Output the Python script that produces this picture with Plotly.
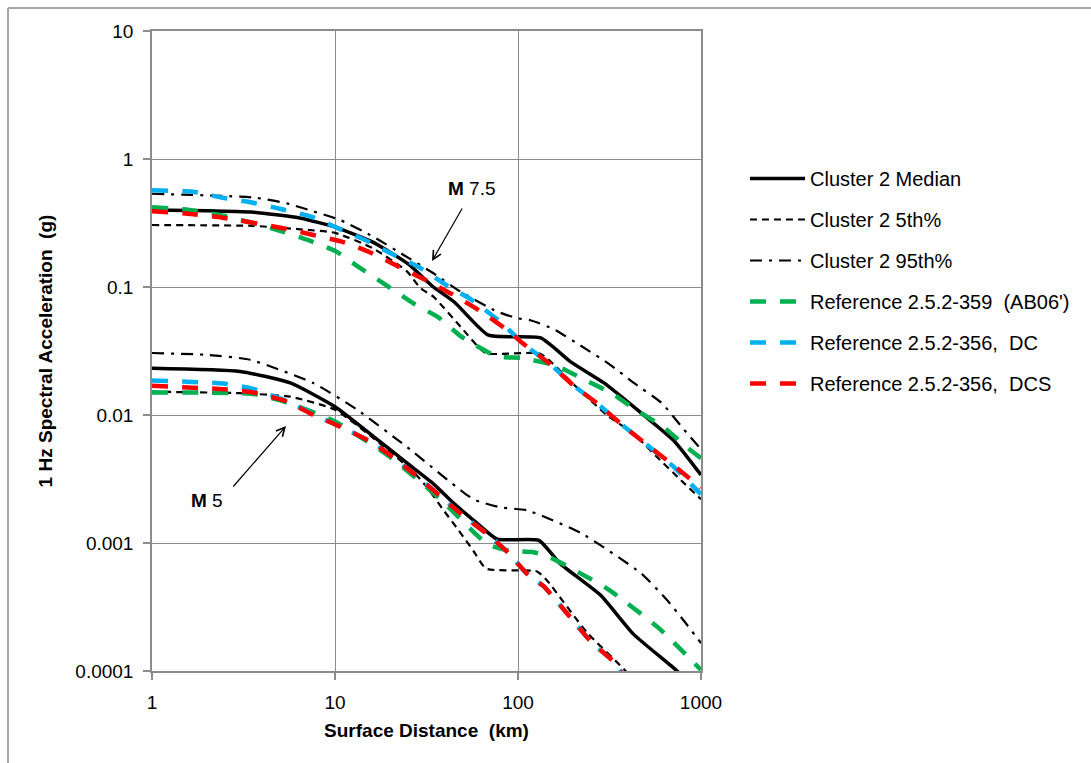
import math
import plotly.graph_objects as go

# ---------------- data ----------------
# M 7.5 curves
med75_x = [1, 2, 3.5, 6.5, 10, 16, 25, 34.5, 45, 69, 133, 194, 295, 448, 711, 1000]
med75_y = [0.40, 0.395, 0.385, 0.345, 0.294, 0.225, 0.152, 0.10, 0.076, 0.042, 0.040, 0.026, 0.0178, 0.011, 0.0063, 0.0034]

p05_75_x = [1, 3.6, 6.5, 10, 16.2, 24.8, 29.3, 34.5, 48.5, 66.5, 133, 200, 305, 425, 575, 776, 1000]
p05_75_y = [0.305, 0.30, 0.282, 0.265, 0.20, 0.132, 0.098, 0.084, 0.049, 0.0305, 0.030, 0.0175, 0.010, 0.0072, 0.0047, 0.0031, 0.0022]

p95_75_x = [1, 3.6, 5.46, 7.6, 10.7, 16.2, 23.7, 34.5, 48.5, 76.5, 99, 117, 156, 226, 315, 430, 610, 800, 1000]
p95_75_y = [0.535, 0.50, 0.45, 0.39, 0.333, 0.247, 0.178, 0.128, 0.092, 0.0645, 0.057, 0.055, 0.047, 0.034, 0.025, 0.0178, 0.0124, 0.0078, 0.0054]

ab06_75_x = [1, 1.6, 2.45, 3.6, 5.0, 7.1, 10.1, 13.7, 19.3, 27, 36.7, 49, 77, 105, 164, 228, 325, 435, 620, 838, 1000]
ab06_75_y = [0.42, 0.40, 0.36, 0.315, 0.275, 0.233, 0.19, 0.141, 0.102, 0.074, 0.058, 0.041, 0.0286, 0.0279, 0.0241, 0.019, 0.0148, 0.0111, 0.0081, 0.0056, 0.0046]

dc_75_x = [1, 1.67, 2.4, 3.51, 5.05, 7.4, 10.5, 14.9, 20.5, 28.7, 40, 56, 82, 107, 150, 200, 273, 373, 510, 700, 1000]
dc_75_y = [0.57, 0.555, 0.50, 0.457, 0.407, 0.355, 0.286, 0.23, 0.181, 0.143, 0.105, 0.079, 0.052, 0.036, 0.025, 0.0171, 0.0122, 0.0083, 0.0058, 0.0040, 0.0024]

dcs_75_x = [1, 1.63, 2.42, 5.2, 7.6, 10.9, 15.6, 21.9, 31, 43.6, 61, 87.5, 107, 150, 200, 273, 373, 510, 700, 1000]
dcs_75_y = [0.39, 0.372, 0.348, 0.288, 0.255, 0.226, 0.186, 0.146, 0.114, 0.088, 0.066, 0.046, 0.036, 0.025, 0.0171, 0.0122, 0.0083, 0.0058, 0.0041, 0.0027]

# M 5 curves
med5_x = [1, 3.03, 5.7, 10, 16.2, 24.8, 34.5, 44.6, 59.7, 77, 130, 170, 283, 426, 740, 1000]
med5_y = [0.0232, 0.0219, 0.0178, 0.0116, 0.0068, 0.0042, 0.0029, 0.00204, 0.00143, 0.00107, 0.00105, 0.00069, 0.00039, 0.000195, 0.0001, 0.000065]

p05_5_x = [1, 3, 5.7, 10, 16.2, 26.8, 32, 39, 47.5, 57, 67, 127, 144, 238, 387, 500]
p05_5_y = [0.0152, 0.0148, 0.0139, 0.011, 0.0066, 0.0036, 0.0027, 0.00182, 0.00125, 0.00087, 0.00063, 0.0006, 0.00051, 0.0002, 0.0001, 0.00006]

p95_5_x = [1, 2, 3.44, 7.6, 13.2, 24.8, 57, 80, 112, 220, 470, 650, 800, 1000]
p95_5_y = [0.0305, 0.0295, 0.027, 0.0178, 0.011, 0.0056, 0.0022, 0.0019, 0.0018, 0.0012, 0.00058, 0.00036, 0.00025, 0.000165]

ab06_5_x = [1, 3.57, 5.5, 10, 20, 37.6, 68, 90, 120, 150, 307, 580, 1000]
ab06_5_y = [0.015, 0.0146, 0.0125, 0.0089, 0.0047, 0.0022, 0.00098, 0.00087, 0.00085, 0.00077, 0.00044, 0.00022, 0.000102]

dc_5_x = [1, 2.45, 3.57, 5.5, 7.3, 10.3, 16.3, 26.8, 48.5, 70.8, 87.5, 114, 138, 186, 250, 336, 400]
dc_5_y = [0.0186, 0.0176, 0.016, 0.0128, 0.0104, 0.0083, 0.006, 0.0035, 0.0017, 0.00112, 0.00085, 0.00056, 0.00046, 0.00028, 0.00017, 0.000117, 0.00008]

dcs_5_x = [1, 2.45, 3.57, 5.5, 7.3, 10.3, 16.3, 26.8, 48.5, 70.8, 87.5, 114, 138, 186, 250, 336, 400]
dcs_5_y = [0.0169, 0.0159, 0.015, 0.0127, 0.0103, 0.0083, 0.006, 0.0035, 0.0017, 0.00112, 0.00085, 0.00056, 0.00046, 0.00028, 0.00017, 0.000117, 0.00008]

series_names = ["Cluster 2 Median", "Cluster 2 5th%", "Cluster 2 95th%",
                "Reference 2.5.2-359  (AB06')", "Reference 2.5.2-356,  DC",
                "Reference 2.5.2-356,  DCS"]

x_ticks = [1, 10, 100, 1000]
x_tick_text = ["1", "10", "100", "1000"]
y_ticks = [10, 1, 0.1, 0.01, 0.001, 0.0001]
y_tick_text = ["10", "1", "0.1", "0.01", "0.001", "0.0001"]

# ---------------- figure ----------------
FONT = "Liberation Sans, Arial, sans-serif"
styles = [
    dict(color="#000000", width=3.5, dash="solid"),
    dict(color="#000000", width=2.2, dash="7px,5px"),
    dict(color="#000000", width=2.2, dash="12px,7px,3px,7px"),
    dict(color="#00B050", width=4.5, dash="16px,14px"),
    dict(color="#00B0F0", width=4.5, dash="16px,14px"),
    dict(color="#FF0000", width=4.5, dash="16px,14px"),
]
pairs = [
    (med75_x, med75_y, med5_x, med5_y),
    (p05_75_x, p05_75_y, p05_5_x, p05_5_y),
    (p95_75_x, p95_75_y, p95_5_x, p95_5_y),
    (ab06_75_x, ab06_75_y, ab06_5_x, ab06_5_y),
    (dc_75_x, dc_75_y, dc_5_x, dc_5_y),
    (dcs_75_x, dcs_75_y, dcs_5_x, dcs_5_y),
]

fig = go.Figure()
for name, st, (ax_, ay_, bx_, by_) in zip(series_names, styles, pairs):
    fig.add_trace(go.Scatter(
        x=ax_ + [None] + bx_, y=ay_ + [None] + by_,
        mode="lines", name=name, legendgroup=name,
        line=dict(**st, shape="spline", smoothing=0.5), connectgaps=False,
        hoverinfo="x+y+name",
    ))

grid = "#8c8c8c"
axis_common = dict(
    type="log", showgrid=True, gridcolor=grid, gridwidth=1,
    showline=True, linecolor=grid, linewidth=1.5, mirror=True,
    ticks="outside", ticklen=7, tickcolor=grid, tickwidth=1.5,
    zeroline=False, tickfont=dict(family=FONT, size=19, color="#000"),
)
fig.update_xaxes(**axis_common, range=[0, 3], tickvals=x_ticks, ticktext=x_tick_text,
                 ticklabelstandoff=6,
                 title=dict(text="<b>Surface Distance  (km)</b>",
                            font=dict(family=FONT, size=19, color="#000"), standoff=12))
fig.update_yaxes(**axis_common, range=[-4, 1], tickvals=y_ticks, ticktext=y_tick_text,
                 ticklabelstandoff=6,
                 title=dict(text="<b>1 Hz Spectral Acceleration  (g)</b>",
                            font=dict(family=FONT, size=19, color="#000"), standoff=18))

L, R, T, B = 152, 390, 31, 92
W, H = 1091, 763
pw, ph = W - L - R, H - T - B


def px_x(p):
    return (p - L) / pw


def px_y(p):
    return (H - B - p) / ph


def lx(px):
    return (px - L) / pw * 3.0


def ly(py):
    return 1 - (py - T) / ph * 5.0


annotations = [
    dict(x=lx(472), y=ly(188), xref="x", yref="y", text="<b>M</b> 7.5", showarrow=False,
         font=dict(family=FONT, size=19, color="#000")),
    dict(x=lx(432), y=ly(261), xref="x", yref="y", text="", showarrow=True,
         ax=31, ay=-54, arrowhead=5, arrowsize=1.4, arrowwidth=1.2, arrowcolor="#000"),
    dict(x=lx(207), y=ly(500), xref="x", yref="y", text="<b>M</b> 5", showarrow=False,
         font=dict(family=FONT, size=19, color="#000")),
    dict(x=lx(286), y=ly(426), xref="x", yref="y", text="", showarrow=True,
         ax=-54, ay=62, arrowhead=5, arrowsize=1.4, arrowwidth=1.2, arrowcolor="#000"),
]

shapes = [
    dict(type="line", xref="paper", yref="paper", x0=px_x(8), x1=px_x(8), y0=px_y(8), y1=px_y(H),
         line=dict(color="#a6a6a6", width=2)),
    dict(type="line", xref="paper", yref="paper", x0=px_x(8), x1=px_x(W), y0=px_y(8), y1=px_y(8),
         line=dict(color="#a6a6a6", width=2)),
]

fig.update_layout(
    width=W, height=H, margin=dict(l=L, r=R, t=T, b=B, pad=0),
    paper_bgcolor="white", plot_bgcolor="white",
    font=dict(family=FONT, size=19, color="#000"),
    showlegend=True,
    legend=dict(x=px_x(745), y=px_y(159), xanchor="left", yanchor="top",
                itemwidth=55, traceorder="grouped", tracegroupgap=12,
                font=dict(family=FONT, size=20, color="#000"),
                bgcolor="rgba(0,0,0,0)", borderwidth=0, itemclick=False),
    annotations=annotations, shapes=shapes,
)

fig.write_html("out.html", config={"displayModeBar": False},
               post_script="document.body.style.margin='0';document.body.style.overflow='hidden';")
